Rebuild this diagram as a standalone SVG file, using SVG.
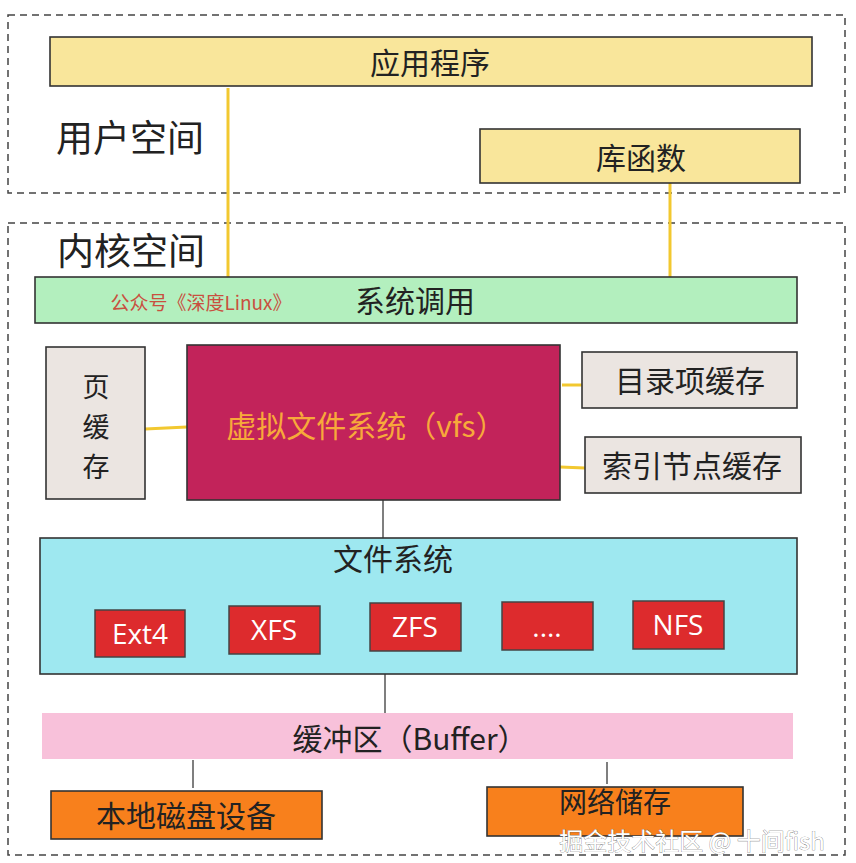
<svg xmlns="http://www.w3.org/2000/svg" width="856" height="863" viewBox="0 0 856 863">
<style>
text{font-family:"Noto Sans CJK SC","Noto Sans",sans-serif;fill:#222;dominant-baseline:central;text-anchor:middle}
.region{fill:none;stroke:#444;stroke-width:1.5;stroke-dasharray:7 5}
.box{stroke:#333;stroke-width:1.6}
.yel{fill:#f9e69b}
.fsb{fill:#dd2b2d;stroke:#444;stroke-width:1.5}
.fst{fill:#fff;font-size:28px;font-family:"Open Sans","Noto Sans",sans-serif}
.cy{stroke:#f2c830;stroke-width:3;fill:none}
.cg{stroke:#555;stroke-width:1.5;fill:none}
.lbl{font-size:30px}
.vc{font-size:27px}
</style>
<rect width="856" height="863" fill="#fff"/>
<g id="user-space">
<rect class="region" x="8" y="15" width="837" height="178"/>
<text x="130" y="136" font-size="37">用户空间</text>
</g>
<g id="kernel-space">
<rect class="region" x="8" y="223" width="837" height="632"/>
<text x="131" y="249" font-size="37">内核空间</text>
</g>
<g id="connectors">
<line class="cy" x1="228" y1="88" x2="228" y2="277"/>
<line class="cy" x1="670" y1="183" x2="670" y2="277"/>
<line class="cy" x1="145" y1="429" x2="187" y2="427"/>
<line class="cy" x1="562" y1="385" x2="582" y2="385"/>
<line class="cy" x1="560" y1="467" x2="585" y2="468"/>
<line class="cg" x1="383" y1="500" x2="383" y2="538"/>
<line class="cg" x1="385" y1="674" x2="385" y2="713"/>
<line class="cg" x1="193" y1="760" x2="193" y2="788"/>
<line class="cg" x1="607" y1="762" x2="607" y2="784"/>
</g>
<g id="app">
<rect class="box yel" x="50" y="37" width="762" height="49"/>
<text class="lbl" x="430" y="61">应用程序</text>
</g>
<g id="lib">
<rect class="box yel" x="480" y="129" width="320" height="54"/>
<text class="lbl" x="641" y="156">库函数</text>
</g>
<g id="syscall">
<rect class="box" fill="#b3efbe" x="35" y="277" width="762" height="46"/>
<text x="201" y="301" font-size="19" style="fill:#c9503f">公众号《深度Linux》</text>
<text class="lbl" x="415" y="299">系统调用</text>
</g>
<g id="page-cache">
<rect class="box" fill="#ebe5e1" x="46" y="347" width="99" height="152"/>
<text class="vc" x="96" y="385">页</text>
<text class="vc" x="96" y="425">缓</text>
<text class="vc" x="96" y="465">存</text>
</g>
<g id="vfs">
<rect class="box" fill="#c2235a" x="187" y="345" width="373" height="155"/>
<text class="lbl" x="366" y="424" style="fill:#f7a93a">虚拟文件系统（vfs）</text>
</g>
<g id="dentry-cache">
<rect class="box" fill="#ebe5e1" x="582" y="352" width="215" height="56"/>
<text class="lbl" x="690" y="379">目录项缓存</text>
</g>
<g id="inode-cache">
<rect class="box" fill="#ebe5e1" x="585" y="437" width="216" height="56"/>
<text class="lbl" x="692" y="464">索引节点缓存</text>
</g>
<g id="filesystem">
<rect class="box" fill="#9ee8f0" x="40" y="538" width="757" height="136"/>
<text class="lbl" x="393" y="557">文件系统</text>
</g>
<g id="ext4"><rect class="fsb" x="95" y="610" width="90" height="47"/><text class="fst" x="140" y="633">Ext4</text></g>
<g id="xfs"><rect class="fsb" x="229" y="606" width="91" height="48"/><text class="fst" x="274" y="629">XFS</text></g>
<g id="zfs"><rect class="fsb" x="370" y="603" width="91" height="48"/><text class="fst" x="415" y="626">ZFS</text></g>
<g id="more"><rect class="fsb" x="502" y="602" width="91" height="48"/><text class="fst" x="547" y="626" font-size="22">....</text></g>
<g id="nfs"><rect class="fsb" x="633" y="601" width="91" height="48"/><text class="fst" x="678" y="624">NFS</text></g>
<g id="buffer">
<rect fill="#f8c1da" x="42" y="713" width="751" height="46"/>
<text class="lbl" x="410" y="737">缓冲区（Buffer）</text>
</g>
<g id="local-disk">
<rect class="box" fill="#f8801c" x="51" y="791" width="271" height="48"/>
<text class="lbl" x="186" y="814">本地磁盘设备</text>
</g>
<g id="net-storage">
<rect class="box" fill="#f8801c" x="487" y="787" width="256" height="49"/>
<text x="615" y="801" font-size="28">网络储存</text>
</g>
<text x="692" y="839" font-size="24" style="fill:#fff;stroke:#666;stroke-width:0.6;paint-order:stroke">掘金技术社区 @ 十间fish</text>
</svg>
